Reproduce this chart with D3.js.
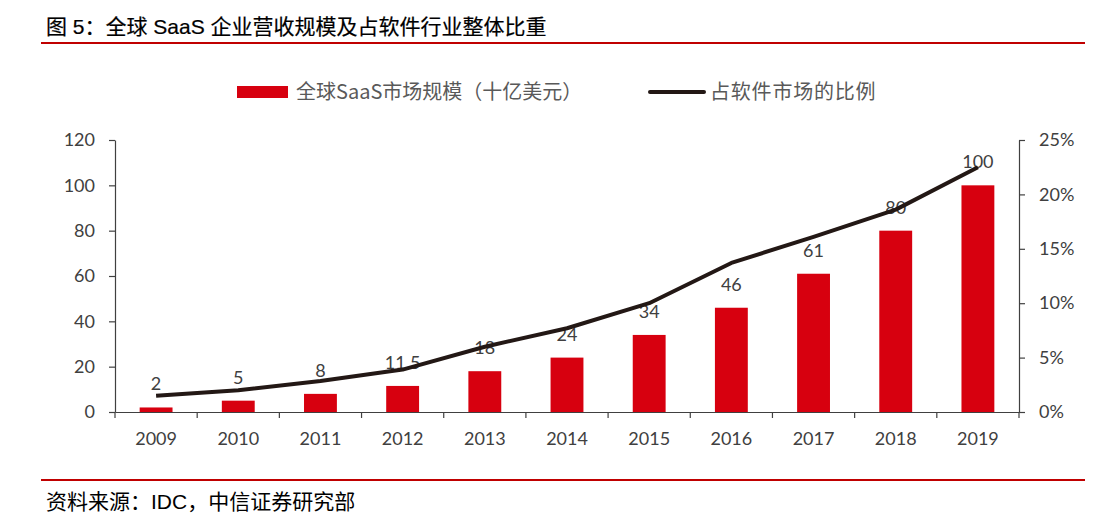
<!DOCTYPE html>
<html>
<head>
<meta charset="utf-8">
<script src="https://cdn.jsdelivr.net/npm/d3@7"></script>
<style>
  body { margin: 0; background: #fff; }
  svg { display: block; }
  .axis text { font-family: Lato, "Noto Sans", sans-serif; font-size: 18px; fill: #404040; }
  .axis path, .axis line { stroke: #404040; stroke-width: 1.2; }
</style>
</head>
<body>
<div id="chart"></div>
<script>
// data
var years = ["2009", "2010", "2011", "2012", "2013", "2014", "2015", "2016", "2017", "2018", "2019"];
var saasSize = [2, 5, 8, 11.5, 18, 24, 34, 46, 61, 80, 100];          // 十亿美元
var softwareShare = [0.015, 0.020, 0.0285, 0.039, 0.060, 0.077, 0.100, 0.137, 0.161, 0.186, 0.225];
var leftTicks = [0, 20, 40, 60, 80, 100, 120];
var rightTicks = [0, 0.05, 0.10, 0.15, 0.20, 0.25];

var width = 1095, height = 524;
var margin = {top: 140, right: 76, bottom: 112, left: 115};

var svg = d3.select("#chart").append("svg")
  .attr("width", width)
  .attr("height", height);

// title + rules
svg.append("text")
  .attr("x", 46).attr("y", 34)
  .style("font-family", "'Liberation Sans', 'Noto Sans CJK SC', sans-serif")
  .style("font-size", "21px")
  .style("fill", "#000")
  .style("stroke", "#000")
  .style("stroke-width", 0.2)
  .text("图 5：全球 SaaS 企业营收规模及占软件行业整体比重");

svg.append("line")
  .attr("x1", 41).attr("x2", 1085).attr("y1", 43).attr("y2", 43)
  .style("stroke", "#c00000").style("stroke-width", 2);

svg.append("line")
  .attr("x1", 41).attr("x2", 1085).attr("y1", 480).attr("y2", 480)
  .style("stroke", "#c00000").style("stroke-width", 2);

svg.append("text")
  .attr("x", 46).attr("y", 509)
  .style("font-family", "'Liberation Sans', 'Noto Sans CJK SC', sans-serif")
  .style("font-size", "21px")
  .style("fill", "#000")
  .text("资料来源：IDC，中信证券研究部");

// scales
var x = d3.scaleBand()
  .domain(years)
  .range([margin.left, width - margin.right])
  .paddingInner(0.6)
  .paddingOuter(0.3);

var y = d3.scaleLinear().domain([0, 120]).range([height - margin.bottom, margin.top]);
var y2 = d3.scaleLinear().domain([0, 0.25]).range([height - margin.bottom, margin.top]);

var g = svg.append("g");

// bars
g.selectAll(".bar")
  .data(saasSize)
  .enter().append("rect")
  .attr("class", "bar")
  .attr("x", function(d, i) { return x(years[i]); })
  .attr("width", x.bandwidth())
  .attr("y", function(d) { return y(d); })
  .attr("height", function(d) { return y(0) - y(d); })
  .style("fill", "#d7000f");

// bar value labels
g.selectAll(".val")
  .data(saasSize)
  .enter().append("text")
  .attr("class", "val")
  .attr("x", function(d, i) { return x(years[i]) + x.bandwidth() / 2; })
  .attr("y", function(d) { return y(d) - 17; })
  .attr("text-anchor", "middle")
  .style("font-family", "Lato, 'Noto Sans', sans-serif")
  .style("font-size", "18px")
  .style("fill", "#404040")
  .text(function(d) { return d; });

// share line
var line = d3.line()
  .x(function(d, i) { return x(years[i]) + x.bandwidth() / 2; })
  .y(function(d) { return y2(d); });

g.append("path")
  .datum(softwareShare)
  .attr("d", line)
  .style("fill", "none")
  .style("stroke", "#231815")
  .style("stroke-width", 4)
  .style("stroke-linejoin", "round");

// axes
svg.append("g")
  .attr("class", "axis")
  .attr("transform", "translate(" + margin.left + ",0)")
  .call(d3.axisLeft(y).tickValues(leftTicks).tickSize(6).tickSizeOuter(0).tickPadding(14));

svg.append("g")
  .attr("class", "axis")
  .attr("transform", "translate(" + (width - margin.right) + ",0)")
  .call(d3.axisRight(y2).tickValues(rightTicks).tickFormat(d3.format(".0%")).tickSize(6).tickSizeOuter(0).tickPadding(14));

var xAxis = svg.append("g")
  .attr("class", "axis")
  .attr("transform", "translate(0," + y(0) + ")")
  .call(d3.axisBottom(x).tickSize(0).tickPadding(20));

// category boundary ticks
var step = x.step();
var edges = years.map(function(d) { return x(d) - (step - x.bandwidth()) / 2; });
edges.push(width - margin.right);
xAxis.selectAll(".edge")
  .data(edges)
  .enter().append("line")
  .attr("class", "edge")
  .attr("x1", function(d) { return d; })
  .attr("x2", function(d) { return d; })
  .attr("y1", 0).attr("y2", 6);

// legend
var legend = svg.append("g")
  .style("font-family", "'Noto Sans CJK SC', sans-serif")
  .style("font-size", "20px")
  .style("fill", "#595959");

legend.append("rect")
  .attr("x", 237).attr("y", 86).attr("width", 51).attr("height", 12)
  .style("fill", "#d7000f");
legend.append("text")
  .attr("x", 296).attr("y", 99)
  .text("全球SaaS市场规模（十亿美元）");

legend.append("line")
  .attr("x1", 650).attr("x2", 704).attr("y1", 92).attr("y2", 92)
  .style("stroke", "#231815").style("stroke-width", 4)
  .style("stroke-linecap", "round");
legend.append("text")
  .attr("x", 710).attr("y", 99)
  .style("letter-spacing", "0.8px")
  .text("占软件市场的比例");
</script>
</body>
</html>
